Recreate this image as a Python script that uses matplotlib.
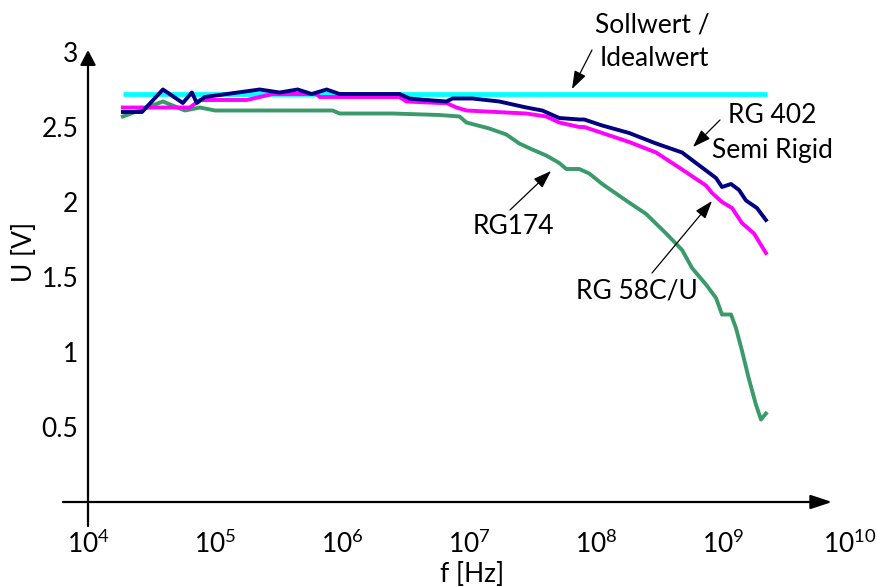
import numpy as np
import matplotlib
matplotlib.use("Agg")
import matplotlib.pyplot as plt

plt.rcParams['font.family'] = ['Lato', 'DejaVu Sans']

# ---- data (log10 of frequency in Hz, voltage in V) ----
rg402_logf = [4.275, 4.425, 4.59, 4.747, 4.818, 4.857, 4.920, 5.093, 5.352, 5.509,
              5.651, 5.761, 5.879, 5.981, 6.453, 6.531, 6.665, 6.822, 6.870, 7.027,
              7.239, 7.451, 7.577, 7.711, 7.868, 7.907, 8.049, 8.261, 8.473, 8.678,
              8.756, 8.945, 8.992, 9.063, 9.126, 9.181, 9.267, 9.338]
rg402_u = [2.60, 2.60, 2.75, 2.66, 2.73, 2.66, 2.70, 2.72, 2.75, 2.73,
           2.75, 2.72, 2.75, 2.72, 2.72, 2.69, 2.68, 2.67, 2.69, 2.69,
           2.67, 2.63, 2.61, 2.56, 2.55, 2.55, 2.51, 2.46, 2.39, 2.33,
           2.28, 2.16, 2.10, 2.12, 2.08, 2.01, 1.96, 1.88]

rg58_logf = [4.275, 4.802, 4.881, 5.25, 5.454, 5.80, 5.824, 6.453, 6.508, 6.767,
             6.822, 6.901, 6.980, 7.451, 7.608, 7.711, 7.868, 7.907, 8.049, 8.261,
             8.473, 8.654, 8.866, 8.914, 8.992, 9.071, 9.149, 9.244, 9.338]
rg58_u = [2.63, 2.63, 2.68, 2.68, 2.72, 2.72, 2.70, 2.70, 2.67, 2.66,
          2.66, 2.63, 2.61, 2.59, 2.57, 2.53, 2.50, 2.50, 2.46, 2.40,
          2.33, 2.23, 2.11, 2.06, 2.00, 1.96, 1.86, 1.79, 1.66]

rg174_logf = [4.275, 4.59, 4.763, 4.881, 5.0, 5.926, 5.981, 6.398, 6.767, 6.925,
              6.980, 7.160, 7.294, 7.396, 7.498, 7.608, 7.711, 7.766, 7.868, 7.947,
              8.049, 8.237, 8.395, 8.552, 8.678, 8.756, 8.866, 8.945, 8.992, 9.063,
              9.102, 9.149, 9.204, 9.259, 9.299, 9.338]
rg174_u = [2.57, 2.67, 2.61, 2.63, 2.61, 2.61, 2.59, 2.59, 2.58, 2.57,
           2.53, 2.49, 2.45, 2.39, 2.35, 2.31, 2.26, 2.22, 2.22, 2.19,
           2.12, 2.01, 1.92, 1.79, 1.68, 1.56, 1.45, 1.36, 1.25, 1.25,
           1.16, 1.01, 0.82, 0.65, 0.55, 0.59]

ideal_logf = [4.275, 9.346]
ideal_u = [2.72, 2.72]

x_tick_exp = [4, 5, 6, 7, 8, 9, 10]
y_ticks = [0.5, 1, 1.5, 2, 2.5, 3]
y_tick_labels = ['0.5', '1', '1.5', '2', '2.5', '3']

# ---- figure ----
W, H = 877, 586
fig = plt.figure(figsize=(W / 100, H / 100), dpi=100)
ax = fig.add_axes([88 / W, (H - 526) / H, (W - 88) / W, (526 - 40) / H])
ax.set_xscale('log')
PX_DEC = 127.0
ax.set_xlim(1e4, 10 ** (4 + (W - 88) / PX_DEC))
ax.set_ylim(-(526 - 502) / 150, (502 - 40) / 150)
for s in ax.spines.values():
    s.set_visible(False)


def px(x, y):
    """reference pixel position -> data coordinates (for annotation layout)"""
    return 10 ** (4 + (x - 88) / PX_DEC), (502 - y) / 150


FS = 19
LW = 2.8
ax.plot(10 ** np.array(ideal_logf), ideal_u, color='#00FFFF', lw=3.4, solid_capstyle='butt')
ax.plot(10 ** np.array(rg174_logf), rg174_u, color='#3A9A6A', lw=LW, solid_joinstyle='round')
ax.plot(10 ** np.array(rg58_logf), rg58_u, color='#FF00FF', lw=LW, solid_joinstyle='round')
ax.plot(10 ** np.array(rg402_logf), rg402_u, color='#000080', lw=LW, solid_joinstyle='round')

# ticks
ax.set_xticks([10.0 ** e for e in x_tick_exp])
ax.set_xticklabels([r'$\mathregular{10^{%d}}$' % e for e in x_tick_exp], fontsize=FS)
ax.xaxis.set_minor_locator(matplotlib.ticker.NullLocator())
ax.set_yticks(y_ticks)
ax.set_yticklabels(y_tick_labels, fontsize=FS)
ax.tick_params(axis='both', length=0)
ax.tick_params(axis='x', pad=3)
ax.tick_params(axis='y', pad=7)

# axis lines with arrow heads
ax.annotate('', xy=px(832, 502), xytext=px(63, 502),
            arrowprops=dict(arrowstyle='-|>,head_length=1.3,head_width=0.43',
                            mutation_scale=10, color='black', lw=1.6,
                            shrinkA=0, shrinkB=0), annotation_clip=False)
ax.annotate('', xy=px(88, 50), xytext=px(88, 526),
            arrowprops=dict(arrowstyle='-|>,head_length=0.9,head_width=0.47',
                            mutation_scale=10, color='black', lw=1.6,
                            shrinkA=0, shrinkB=0), annotation_clip=False)

# axis titles
fig.text(472 / W, 1 - 574 / H, 'f [Hz]', ha='center', va='center', fontsize=FS)
fig.text(25 / W, 1 - 252 / H, 'U [V]', ha='center', va='center', fontsize=FS, rotation=90)

# annotations
arr = dict(arrowstyle='-|>,head_length=1.1,head_width=0.38', mutation_scale=10,
           color='black', lw=0.9, shrinkA=0, shrinkB=0)
for (tail, tip) in [((592, 50), (572, 89)), ((720, 120), (693, 147)),
                    ((510, 210), (551, 171)), ((652, 273), (712, 201))]:
    ax.annotate('', xy=px(*tip), xytext=px(*tail), arrowprops=arr, annotation_clip=False)

texts = [('Sollwert /', 652, 32), ('Idealwert', 654, 66), ('RG 402', 772, 123),
         ('Semi Rigid', 772, 158), ('RG174', 513, 234), ('RG 58C/U', 637, 299)]
for t, x, y in texts:
    ax.text(*px(x, y), t, ha='center', va='baseline', fontsize=FS, clip_on=False)

fig.savefig('out.png', dpi=100)
